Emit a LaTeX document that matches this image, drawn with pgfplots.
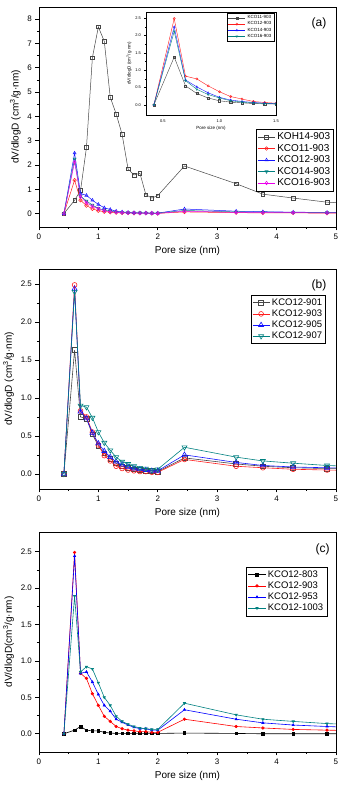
\documentclass[border=0pt]{standalone}
\usepackage{pgfplots}
\usepackage{pgfplotstable}
\pgfplotsset{compat=1.18}
\usepackage{fontspec}
\setmainfont{Liberation Sans}
\definecolor{cteal}{RGB}{0,128,128}
\definecolor{cgray}{RGB}{70,70,70}
\definecolor{cmag}{RGB}{235,0,235}
\definecolor{cred}{RGB}{255,30,30}
\definecolor{cblue}{RGB}{20,20,255}

\pgfplotstableread{
x    koh   kcoA  kcoB  kcoC  kcoD
0.42 0     0     0     0     0
0.6  0.55  1.38  2.49  2.25  2.12
0.7  0.95  0.55  0.83  0.72  0.70
0.8  2.72  0.33  0.75  0.52  0.45
0.9  6.42  0.20  0.55  0.35  0.30
1.0  7.68  0.12  0.38  0.22  0.20
1.1  7.09  0.08  0.24  0.14  0.12
1.2  4.79  0.06  0.17  0.10  0.08
1.3  4.10  0.04  0.10  0.07  0.06
1.4  3.26  0.03  0.07  0.05  0.04
1.5  1.84  0.03  0.05  0.04  0.03
1.6  1.59  0.02  0.04  0.03  0.03
1.7  1.66  0.02  0.03  0.03  0.02
1.8  0.78  0.02  0.03  0.02  0.02
1.9  0.64  0.01  0.02  0.02  0.02
2.0  0.74  0.01  0.02  0.02  0.01
2.45 1.96  0.07  0.19  0.13  0.10
3.32 1.23  0.04  0.10  0.07  0.05
3.77 0.80  0.03  0.08  0.06  0.04
4.28 0.64  0.03  0.06  0.05  0.04
4.85 0.47  0.02  0.05  0.04  0.03
5.5  0.40  0.02  0.04  0.03  0.03
}\tabA

\pgfplotstableread{
x    a     b     c     d
0.42 0     0     0     0
0.6  1.63  2.49  2.44  2.40
0.7  0.75  0.83  0.82  0.90
0.8  0.73  0.75  0.73  0.88
0.9  0.52  0.55  0.54  0.74
1.0  0.37  0.38  0.40  0.55
1.1  0.27  0.24  0.30  0.41
1.2  0.20  0.17  0.22  0.31
1.3  0.14  0.10  0.16  0.22
1.4  0.10  0.07  0.12  0.16
1.5  0.08  0.05  0.09  0.13
1.6  0.06  0.04  0.07  0.10
1.7  0.05  0.03  0.06  0.08
1.8  0.04  0.03  0.05  0.07
1.9  0.04  0.02  0.04  0.05
2.0  0.03  0.02  0.04  0.06
2.45 0.21  0.19  0.25  0.35
3.32 0.13  0.10  0.15  0.22
3.77 0.10  0.08  0.11  0.17
4.28 0.08  0.06  0.09  0.14
4.85 0.07  0.05  0.08  0.11
5.5  0.06  0.04  0.07  0.09
}\tabB

\pgfplotstableread{
x    a     b     c     d
0.42 0     0     0     0
0.6  0.05  2.49  2.44  1.89
0.7  0.10  0.83  0.83  0.85
0.8  0.05  0.76  0.85  0.92
0.9  0.04  0.55  0.71  0.89
1.0  0.04  0.39  0.54  0.70
1.1  0.02  0.24  0.39  0.50
1.2  0.01  0.17  0.31  0.39
1.3  0.005 0.10  0.20  0.24
1.4  0.005 0.07  0.16  0.17
1.5  0.005 0.05  0.12  0.13
1.6  0.005 0.04  0.09  0.10
1.7  0.005 0.03  0.07  0.08
1.8  0.005 0.03  0.07  0.07
1.9  0.005 0.02  0.05  0.06
2.0  0.005 0.02  0.05  0.06
2.45 0.01  0.20  0.33  0.42
3.32 0.005 0.10  0.20  0.26
3.77 0     0.08  0.15  0.20
4.28 0     0.06  0.12  0.17
4.85 0     0.05  0.10  0.14
5.5  0     0.04  0.08  0.12
}\tabC

\pgfplotsset{
  panel/.style={
    scale only axis, width=297pt, height=220pt,
    xmin=0, xmax=5, xtick={0,1,2,3,4,5},
    minor x tick num=1, minor y tick num=1,
    tick align=outside, tick pos=left,
    major tick length=3.5pt, minor tick length=2pt,
    every tick/.style={black, line width=0.6pt},
    axis line style={line width=0.8pt},
    tick label style={font=\fontsize{8}{9}\selectfont},
    label style={font=\fontsize{10}{12}\selectfont},
    xlabel={Pore size (nm)},
    /pgf/number format/assume math mode=true,
    clip marker paths=true,
    legend cell align=left,
    legend style={draw=black, line width=0.5pt, inner sep=1.5pt, row sep=-1pt,
      font=\fontsize{9.5}{11}\selectfont},
  },
  onedec/.style={yticklabel style={/pgf/number format/fixed, /pgf/number format/fixed zerofill, /pgf/number format/precision=1}},
  open/.style={mark options={solid, fill=white}},
  opendown/.style={mark options={solid, fill=white, rotate=180}},
}

\begin{document}
\begin{tikzpicture}
\path (0,0) rectangle (340pt,786pt);

% ---------------- panel (a)
\begin{axis}[panel, at={(38pt,559pt)}, anchor=south west,
  ymin=-0.55, ymax=8.5, ytick={0,1,2,3,4,5,6,7,8},
  ylabel={dV/dlogD (cm\textsuperscript{3}/g·nm)},
  legend style={at={(0.993,0.445)}, anchor=north east, font=\fontsize{10}{12}\selectfont},
  every axis plot/.append style={line width=0.5pt, mark size=1.8pt},
]
\addplot[cgray, mark=square, open] table[x=x,y=koh] {\tabA};
\addlegendentry{KOH14-903}
\addplot[cred, mark=o, open] table[x=x,y=kcoA] {\tabA};
\addlegendentry{KCO11-903}
\addplot[cblue, mark=triangle, open] table[x=x,y=kcoB] {\tabA};
\addlegendentry{KCO12-903}
\addplot[cteal, mark=triangle, opendown] table[x=x,y=kcoC] {\tabA};
\addlegendentry{KCO14-903}
\addplot[cmag, mark=diamond, open] table[x=x,y=kcoD] {\tabA};
\addlegendentry{KCO16-903}
\node[font=\fontsize{12}{14}\selectfont] at (rel axis cs:0.943,0.927) {(a)};
\end{axis}

% inset
\begin{axis}[at={(145pt,671pt)}, anchor=south west, scale only axis,
  width=130pt, height=103pt, axis background/.style={fill=white},
  xmin=0.35, xmax=1.5, ymin=-0.29, ymax=2.68,
  xtick={0.5,1.0,1.5}, ytick={0,0.5,1.0,1.5,2.0,2.5},
  minor x tick num=1, minor y tick num=1,
  tick align=outside, tick pos=left,
  major tick length=1.5pt, minor tick length=0.9pt,
  every tick/.style={black, line width=0.4pt},
  axis line style={line width=0.5pt},
  /pgf/number format/fixed, /pgf/number format/fixed zerofill, /pgf/number format/precision=1,
  /pgf/number format/assume math mode=true,
  tick label style={font=\fontsize{4}{5}\selectfont},
  label style={font=\fontsize{4.5}{5}\selectfont},
  xlabel={Pore size (nm)}, ylabel={dV/dlogD (cm\textsuperscript{3}/g·nm)},
  xlabel shift=-3pt, ylabel shift=-3pt,
  clip marker paths=true,
  legend cell align=left,
  legend style={at={(0.985,0.99)}, anchor=north east, draw=black, line width=0.3pt,
    inner sep=0.5pt, row sep=-2.5pt, font=\fontsize{4.5}{5}\selectfont},
  every axis plot/.append style={line width=0.4pt, mark size=1.1pt},
]
\addplot[cgray, mark=square, open] table[x=x,y=kcoA] {\tabA};
\addlegendentry{KCO11-903}
\addplot[cred, mark=o, open] table[x=x,y=kcoB] {\tabA};
\addlegendentry{KCO12-903}
\addplot[cblue, mark=triangle, open] table[x=x,y=kcoC] {\tabA};
\addlegendentry{KCO14-903}
\addplot[cteal, mark=triangle, opendown] table[x=x,y=kcoD] {\tabA};
\addlegendentry{KCO16-903}
\end{axis}

% ---------------- panel (b)
\begin{axis}[panel, onedec, at={(38pt,297pt)}, anchor=south west,
  ymin=-0.2, ymax=2.7, ytick={0,0.5,1.0,1.5,2.0,2.5},
  ylabel={dV/dlogD (cm\textsuperscript{3}/g·nm)},
  legend style={at={(0.966,0.882)}, anchor=north east},
  every axis plot/.append style={line width=0.6pt, mark size=2.4pt},
]
\addplot[cgray, mark=square, open] table[x=x,y=a] {\tabB};
\addlegendentry{KCO12-901}
\addplot[cred, mark=o, open] table[x=x,y=b] {\tabB};
\addlegendentry{KCO12-903}
\addplot[cblue, mark=triangle, mark size=2.9pt, open] table[x=x,y=c] {\tabB};
\addlegendentry{KCO12-905}
\addplot[cteal, mark=triangle, mark size=2.9pt, opendown] table[x=x,y=d] {\tabB};
\addlegendentry{KCO12-907}
\node[font=\fontsize{12}{14}\selectfont] at (rel axis cs:0.943,0.927) {(b)};
\end{axis}

% ---------------- panel (c)
\begin{axis}[panel, onedec, at={(38pt,34pt)}, anchor=south west,
  ymin=-0.25, ymax=2.77, ytick={0,0.5,1.0,1.5,2.0,2.5},
  ylabel={dV/dlogD(cm\textsuperscript{3}/g·nm)},
  legend style={at={(0.97,0.841)}, anchor=north east},
  every axis plot/.append style={line width=0.6pt, mark size=1.3pt},
]
\addplot[black, mark=square*] table[x=x,y=a] {\tabC};
\addlegendentry{KCO12-803}
\addplot[red, mark=*, mark options={fill=red}] table[x=x,y=b] {\tabC};
\addlegendentry{KCO12-903}
\addplot[blue, mark=triangle*, mark options={fill=blue}] table[x=x,y=c] {\tabC};
\addlegendentry{KCO12-953}
\addplot[cteal, mark=triangle*, mark options={rotate=180, fill=cteal}] table[x=x,y=d] {\tabC};
\addlegendentry{KCO12-1003}
\node[font=\fontsize{12}{14}\selectfont] at (rel axis cs:0.955,0.923) {(c)};
\end{axis}
\end{tikzpicture}
\end{document}
